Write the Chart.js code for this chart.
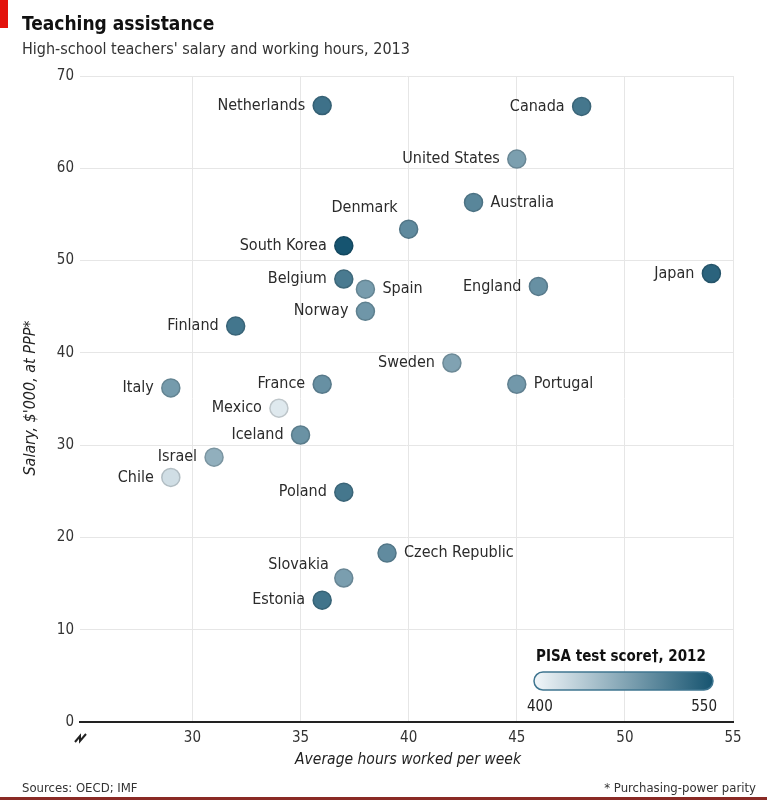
<!DOCTYPE html>
<html>
<head>
<meta charset="utf-8">
<script src="https://cdn.jsdelivr.net/npm/chart.js@4.4.1/dist/chart.umd.min.js"></script>
<style>
  body { margin: 0; background: #fff; }
  #wrap { width: 767px; height: 800px; position: relative; }
</style>
</head>
<body>
<div id="wrap"><canvas id="myChart" width="767" height="800"></canvas></div>
<script>
// Chart data
var countries = ["Netherlands", "Canada", "United States", "Australia", "Denmark", "South Korea",
    "Japan", "Belgium", "Spain", "England", "Norway", "Finland", "Sweden", "France", "Portugal",
    "Italy", "Mexico", "Iceland", "Israel", "Chile", "Poland", "Czech Republic", "Slovakia", "Estonia"];
var hours = [36, 48, 45, 43, 40, 37, 54, 37, 38, 46, 38, 32, 42, 36, 45, 29, 34, 35, 31, 29, 37, 39, 37, 36];
var salary = [66.8, 66.7, 61.0, 56.3, 53.4, 51.6, 48.6, 48.0, 46.9, 47.2, 44.5, 42.9, 38.9, 36.6, 36.6,
    36.2, 34.0, 31.1, 28.7, 26.5, 24.9, 18.3, 15.6, 13.2];
var pisa = [523, 518, 481, 504, 500, 554, 536, 515, 484, 495, 489, 519, 478, 495, 487,
    485, 413, 493, 466, 423, 518, 499, 482, 521];
var xTicks = [30, 35, 40, 45, 50, 55];
var yTicks = [0, 10, 20, 30, 40, 50, 60, 70];
var scaleEnds = [400, 550]; // colour scale

// Label placement (style only)
var labelSide = {
    "Australia": "right", "Spain": "right", "Portugal": "right", "Czech Republic": "right",
    "Denmark": "above", "Slovakia": "aboveleft"
};

var FONT = '"DejaVu Sans Condensed", "Liberation Sans Narrow", "Liberation Sans", sans-serif';
var lowCol = [242, 247, 250], highCol = [22, 84, 112];

function scoreColor(s, darker) {
    var t = (s - scaleEnds[0]) / (scaleEnds[1] - scaleEnds[0]);
    t = Math.max(0, Math.min(1, t));
    var c = lowCol.map((v, i) => Math.round(v + (highCol[i] - v) * t));
    if (darker) c = c.map(v => Math.round(v * 0.85));
    return 'rgb(' + c.join(',') + ')';
}

var points = hours.map((h, i) => ({ x: h, y: salary[i] }));

// Draw the title, labels, legend and footer
const extras = {
    id: 'extras',
    afterDatasetsDraw(chart) {
        const ctx = chart.ctx;
        const xs = chart.scales.x, ys = chart.scales.y;
        ctx.save();

        // country labels
        ctx.font = '16px ' + FONT;
        ctx.fillStyle = '#2b2b2b';
        ctx.textBaseline = 'middle';
        countries.forEach((name, i) => {
            const px = xs.getPixelForValue(hours[i]);
            const py = ys.getPixelForValue(salary[i]);
            const side = labelSide[name] || 'left';
            if (side === 'right') {
                ctx.textAlign = 'left';
                ctx.fillText(name, px + 17, py);
            } else if (side === 'above') {
                ctx.textAlign = 'right';
                ctx.fillText(name, px - 11, py - 21);
            } else if (side === 'aboveleft') {
                ctx.textAlign = 'right';
                ctx.fillText(name, px - 15, py - 13);
            } else {
                ctx.textAlign = 'right';
                ctx.fillText(name, px - 17, py);
            }
        });

        // red tab, title and subtitle
        ctx.fillStyle = '#e3120b';
        ctx.fillRect(0, 0, 8, 28);
        ctx.textAlign = 'left';
        ctx.textBaseline = 'alphabetic';
        ctx.fillStyle = '#111';
        ctx.font = 'bold 19px ' + FONT;
        ctx.fillText('Teaching assistance', 22, 30);
        ctx.fillStyle = '#333';
        ctx.font = '16px ' + FONT;
        ctx.fillText("High-school teachers' salary and working hours, 2013", 22, 54);

        // y axis title
        ctx.save();
        ctx.translate(35, 398);
        ctx.rotate(-Math.PI / 2);
        ctx.textAlign = 'center';
        ctx.font = 'italic 16px ' + FONT;
        ctx.fillStyle = '#222';
        ctx.fillText("Salary, $'000, at PPP*", 0, 0);
        ctx.restore();

        // x axis title
        ctx.textAlign = 'center';
        ctx.font = 'italic 15.5px ' + FONT;
        ctx.fillStyle = '#222';
        ctx.fillText('Average hours worked per week', 408, 764);

        // axis break mark
        const bx = xs.left, by = ys.bottom;
        ctx.strokeStyle = '#222';
        ctx.lineWidth = 2;
        ctx.lineJoin = 'miter';
        ctx.beginPath();
        ctx.moveTo(bx - 5, by + 20);
        ctx.lineTo(bx, by + 14);
        ctx.lineTo(bx, by + 19);
        ctx.lineTo(bx + 6, by + 12);
        ctx.stroke();

        // colour legend
        ctx.fillStyle = '#111';
        ctx.font = 'bold 15px ' + FONT;
        ctx.textAlign = 'left';
        ctx.fillText('PISA test score\u2020, 2012', 536, 661);
        const lx = 534, ly = 672, lw = 179, lh = 18;
        const grad = ctx.createLinearGradient(lx, 0, lx + lw, 0);
        grad.addColorStop(0, scoreColor(scaleEnds[0]));
        grad.addColorStop(1, scoreColor(scaleEnds[1]));
        ctx.beginPath();
        ctx.roundRect(lx, ly, lw, lh, 9);
        ctx.fillStyle = grad;
        ctx.fill();
        ctx.strokeStyle = '#3f7590';
        ctx.lineWidth = 1.5;
        ctx.stroke();
        ctx.fillStyle = '#222';
        ctx.font = '15px ' + FONT;
        ctx.textAlign = 'left';
        ctx.fillText(String(scaleEnds[0]), 527, 711);
        ctx.textAlign = 'right';
        ctx.fillText(String(scaleEnds[1]), 717, 711);

        // footer
        ctx.font = '13px ' + FONT;
        ctx.fillStyle = '#333';
        ctx.textAlign = 'left';
        ctx.fillText('Sources: OECD; IMF', 22, 792);
        ctx.textAlign = 'right';
        ctx.fillText('* Purchasing-power parity', 756, 792);
        ctx.fillStyle = '#8a2a25';
        ctx.fillRect(0, 797, 767, 3);

        ctx.restore();
    }
};

new Chart('myChart', {
    type: 'scatter',
    data: {
        datasets: [{
            data: points,
            backgroundColor: pisa.map(s => scoreColor(s)),
            borderColor: pisa.map(s => scoreColor(s, true)),
            borderWidth: 1.5,
            pointRadius: 9,
            pointHoverRadius: 9
        }]
    },
    options: {
        responsive: false,
        animation: false,
        layout: { padding: { left: 0, right: 34, top: 76, bottom: 0 } },
        plugins: { legend: { display: false }, tooltip: { enabled: false } },
        scales: {
            x: {
                type: 'linear',
                min: 24.8,
                max: 55,
                afterBuildTicks: axis => { axis.ticks = xTicks.map(v => ({ value: v })); },
                afterFit: axis => { axis.height = 78; },
                grid: { color: '#e6e6e6', drawTicks: false },
                border: { display: true, color: '#222', width: 2 },
                ticks: { color: '#333', font: { family: FONT, size: 15 }, padding: 7 }
            },
            y: {
                min: 0,
                max: 70,
                afterBuildTicks: axis => { axis.ticks = yTicks.map(v => ({ value: v })); },
                afterFit: axis => { axis.width = 80; },
                grid: { color: ctx => ctx.tick.value === 0 ? 'rgba(0,0,0,0)' : '#e6e6e6', drawTicks: false },
                border: { display: false },
                ticks: { color: '#333', font: { family: FONT, size: 15 }, padding: 6 }
            }
        }
    },
    plugins: [extras]
});
</script>
</body>
</html>
